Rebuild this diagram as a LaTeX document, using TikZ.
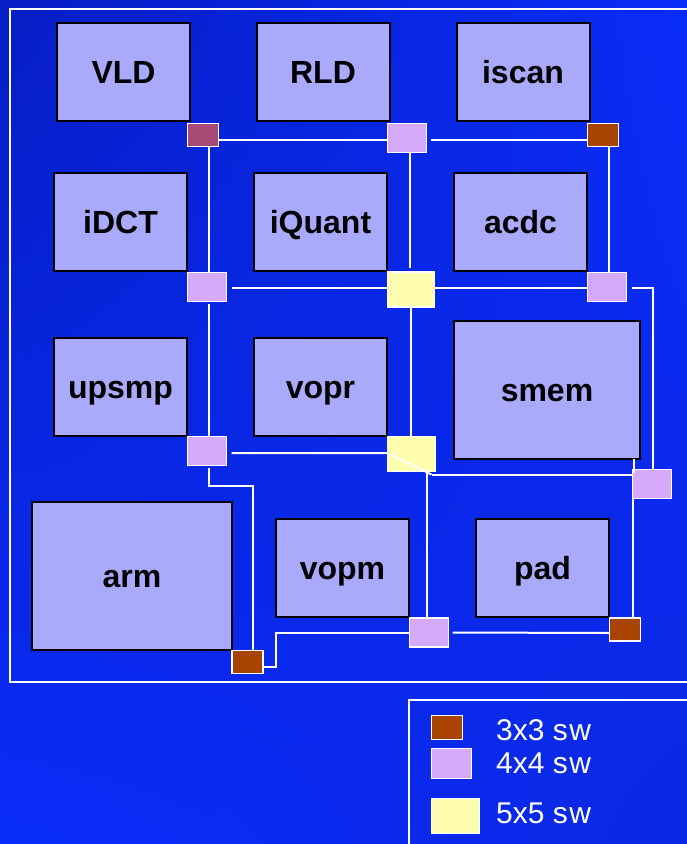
\documentclass[tikz,border=0pt]{standalone}
\usepackage{fontspec}
\setmainfont{Liberation Sans}
\usetikzlibrary{calc,shadings}
\definecolor{blockfill}{RGB}{170,170,252}
\definecolor{lilac}{RGB}{214,170,250}
\definecolor{swyellow}{RGB}{255,253,176}
\definecolor{swbrown}{RGB}{168,68,0}
\definecolor{swmaroon}{RGB}{168,74,118}
\definecolor{bgTL}{RGB}{6,30,196}
\definecolor{bgTR}{RGB}{10,44,248}
\definecolor{bgBL}{RGB}{10,44,250}
\definecolor{bgBR}{RGB}{12,40,228}
\begin{document}
\begin{tikzpicture}[x=1pt,y=-1pt,
  block/.style={draw=black,line width=2pt,fill=blockfill,inner sep=0pt,outer sep=0pt,
    font=\fontsize{32}{36}\selectfont\bfseries,text height=23pt,text depth=0pt},
  sw/.style={draw=white,line width=1.8pt,inner sep=0pt,outer sep=0pt},
  sw3/.style={sw,fill=swbrown,minimum width=31pt,minimum height=23pt},
  sw4/.style={sw,fill=lilac,minimum width=39pt,minimum height=29pt},
  sw5/.style={sw,fill=swyellow,minimum width=47pt,minimum height=35pt},
  wire/.style={draw=white,line width=2pt},
  frame/.style={draw=white,line width=2pt},
  legtext/.style={text=white,inner sep=0pt,anchor=base west,font=\fontsize{30}{36}\selectfont}
]
\useasboundingbox (0,0) rectangle (687,844);
\clip (0,0) rectangle (687,844);
\shade[upper left=bgTL,upper right=bgTR,lower left=bgBL,lower right=bgBR] (0,0) rectangle (687,844);

% frames
\draw[frame] (10,9) rectangle (700,682);
\draw[frame] (409,700) rectangle (700,860);

% blocks
\node[block,minimum width=133pt,minimum height=98pt] (VLD) at (123.5,72) {VLD};
\node[block,minimum width=133pt,minimum height=98pt] (RLD) at (323,72) {RLD};
\node[block,minimum width=133pt,minimum height=98pt] (iscan) at (523,72) {iscan};
\node[block,minimum width=133pt,minimum height=98pt] (iDCT) at (120.5,222) {iDCT};
\node[block,minimum width=133pt,minimum height=98pt] (iQuant) at (320.5,222) {iQuant};
\node[block,minimum width=133pt,minimum height=98pt] (acdc) at (520.5,222) {acdc};
\node[block,minimum width=133pt,minimum height=98pt] (upsmp) at (120.5,387) {upsmp};
\node[block,minimum width=133pt,minimum height=98pt] (vopr) at (320.5,387) {vopr};
\node[block,minimum width=186pt,minimum height=138pt] (smem) at (547,390) {smem};
\node[block,minimum width=200pt,minimum height=148pt] (arm) at (132,576) {arm};
\node[block,minimum width=133pt,minimum height=98pt] (vopm) at (342.5,568) {vopm};
\node[block,minimum width=133pt,minimum height=98pt] (pad) at (542.5,568) {pad};

% switches
\node[sw3,fill=swmaroon] (S1) at (203,135) {};
\node[sw4] (S2) at (407,138) {};
\node[sw3] (S3) at (603,135) {};
\node[sw4] (S4) at (207,287) {};
\node[sw5] (S5) at (411,289.5) {};
\node[sw4] (S6) at (607,287) {};
\node[sw4] (S7) at (207,451) {};
\node[sw5,minimum width=48pt] (S8) at (411.5,454) {};
\node[sw4] (S9) at (652,484) {};
\node[sw3] (S10) at (247.5,662) {};
\node[sw4] (S11) at (429,632.5) {};
\node[sw3] (S12) at (625,629.5) {};

% helper points
\coordinate (d1) at ([xshift=-4pt,yshift=-3pt]S8.south east);
\coordinate (d2) at ([xshift=-9pt,yshift=2pt]S8.south east);
\coordinate (d3) at ([xshift=-6pt]smem.south east);
\coordinate (d5) at ([xshift=13pt,yshift=-5pt]S10.east);
\coordinate (d6) at ([xshift=5.5pt]S10.north);

% wires
\draw[wire] ([yshift=-5pt]S1.east) -- ([yshift=-2pt]S2.west);
\draw[wire] ([xshift=4pt,yshift=-2pt]S2.east) -- ([yshift=-5pt]S3.west);
\draw[wire] ([xshift=6pt]S1.south) -- ([xshift=2pt]S4.north);
\draw[wire] ([xshift=3pt]S2.south) -- ([xshift=-1pt,yshift=4pt]S5.north);
\draw[wire] ([xshift=6pt]S3.south) -- ([xshift=2pt]S6.north);
\draw[wire] ([xshift=5pt,yshift=-1pt]S4.east) -- ([yshift=1.5pt]S5.west);
\draw[wire] ([yshift=1.5pt]S5.east) -- ([yshift=-1pt]S6.west);
\draw[wire] ([xshift=5pt,yshift=-1pt]S6.east) -| ([xshift=1pt]S9.north);
\draw[wire] ([xshift=2pt,yshift=-2pt]S4.south) -- ([xshift=2pt]S7.north);
\draw[wire] (S5.south) -- (S5.south |- S8.north);
\draw[wire] ([xshift=5pt,yshift=-2pt]S7.east) -- ([yshift=1pt]S8.west) -- (d1);
\draw[wire] (d1) -- (d1 -| S9.west);
\draw[wire] (d2) -- (d2 |- S11.north);
\draw[wire] (d3) -- ([yshift=-3pt]d3 |- S9.north);
\draw[wire] (S9.south west) -- (S9.south west |- S12.north);
\draw[wire] ([xshift=4pt]S11.east) -- ([yshift=-3.5pt]S12.west);
\draw[wire] (S11.west) -| (d5) -- ([yshift=-5pt]S10.east);
\draw[wire] ([xshift=2pt,yshift=-2pt]S7.south) -- ++(0,18) -| (d6);

% legend
\node[sw3,minimum width=31pt,minimum height=24pt] (L3) at (447,727.5) {};
\node[sw4,minimum width=40pt,minimum height=30pt] (L4) at (451.5,763.5) {};
\node[sw5,minimum width=48pt,minimum height=35pt] (L5) at (455.5,816) {};
\node[legtext] (T3) at (496,740) {3x3 s\kern1.5pt w};
\node[legtext] (T4) at (496,773) {4x4 s\kern1.5pt w};
\node[legtext] (T5) at (496,823) {5x5 s\kern1.5pt w};
\end{tikzpicture}
\end{document}
